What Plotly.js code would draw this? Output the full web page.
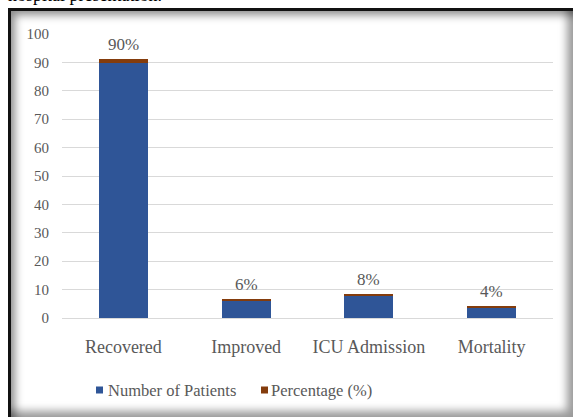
<!DOCTYPE html>
<html>
<head>
<meta charset="utf-8">
<script src="https://cdn.plot.ly/plotly-3.0.1.min.js"></script>
<style>
  html, body { margin: 0; padding: 0; background: #ffffff; width: 573px; height: 417px; overflow: hidden; }
  #frame {
    position: absolute; left: 8px; top: 8px; width: 562px; height: 406px;
    border-top: 3px solid #111; border-left: 3px solid #111;
    box-shadow: inset 7px 7px 8px -3px rgba(0,0,0,0.45), inset -9px -9px 8px -3px rgba(0,0,0,0.4);
  }
  #chart { position: absolute; left: 0; top: 0; width: 573px; height: 417px; }
</style>
</head>
<body>
<div id="frame"></div>
<div id="chart"></div>
<script>
const categories = ["Recovered", "Improved", "ICU Admission", "Mortality"];
const patients = [89.8, 6, 7.6, 3.6];
const percentage = [1.3, 0.6, 0.7, 0.6];
const labels = ["90%", "6%", "8%", "4%"];
const yTicks = [0, 10, 20, 30, 40, 50, 60, 70, 80, 90, 100];
const seriesNames = ["Number of Patients", "Percentage (%)"];
const seriesColors = ["#2F5597", "#843C0C"];

const serif = "Liberation Serif, Times New Roman, serif";
const grey = "#595959";

const traces = [
  { type: "bar", name: seriesNames[0], x: categories, y: patients,
    marker: { color: seriesColors[0] }, hoverinfo: "none" },
  { type: "bar", name: seriesNames[1], x: categories, y: percentage,
    marker: { color: seriesColors[1] }, hoverinfo: "none" }
];

// plot area in pixels: left 62, width 491, top 34, height 284
const px = v => (v - 62) / 491;
const py = v => (318 - v) / 284;

const annotations = categories.map((c, i) => ({
  x: c, y: patients[i] + percentage[i], xref: "x", yref: "y",
  text: labels[i], showarrow: false, yanchor: "bottom", yshift: 3,
  font: { family: serif, size: 17, color: grey }
}));
annotations.push({
  xref: "paper", yref: "paper", x: px(6), y: py(-5), xanchor: "left", yanchor: "middle",
  text: "hospital presentation.", showarrow: false,
  font: { family: serif, size: 18, color: "#000" }
});

// custom legend
const legendItems = [
  { sq: [96, 103], tx: 106 },
  { sq: [261, 268], tx: 268.5 }
];
const shapes = legendItems.map((it, i) => ({
  type: "rect", xref: "paper", yref: "paper",
  x0: px(it.sq[0]), x1: px(it.sq[1]), y0: py(393.5), y1: py(386.5),
  fillcolor: seriesColors[i], line: { width: 0 }
}));
legendItems.forEach((it, i) => annotations.push({
  xref: "paper", yref: "paper", x: px(it.tx), y: py(390), xanchor: "left", yanchor: "middle",
  text: seriesNames[i], showarrow: false,
  font: { family: serif, size: 16.5, color: grey }
}));

const layout = {
  width: 573, height: 417,
  margin: { l: 62, r: 20, t: 34, b: 99, pad: 0 },
  paper_bgcolor: "rgba(0,0,0,0)", plot_bgcolor: "rgba(0,0,0,0)",
  barmode: "stack", bargap: 0.6,
  showlegend: false,
  xaxis: { type: "category", showgrid: false, zeroline: false, showline: false,
    tickfont: { family: serif, size: 18, color: grey }, ticks: "", ticklabelstandoff: 16 },
  yaxis: { range: [0, 100], tickvals: yTicks, ticktext: yTicks.map(String),
    showgrid: true, gridcolor: "#D9D9D9", gridwidth: 1, zeroline: true, zerolinecolor: "#D9D9D9",
    showline: false, ticks: "", ticklabelstandoff: 12,
    tickfont: { family: serif, size: 15, color: grey } },
  shapes: shapes,
  annotations: annotations
};

Plotly.newPlot("chart", traces, layout, { displayModeBar: false, staticPlot: true });
</script>
</body>
</html>
